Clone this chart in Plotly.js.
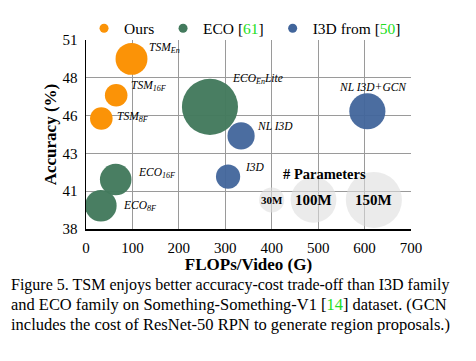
<!DOCTYPE html>
<html>
<head>
<meta charset="utf-8">
<script src="https://cdn.plot.ly/plotly-3.0.1.min.js"></script>
<style>html,body{margin:0;padding:0;background:#fff;}#chart{width:476px;height:361px;}</style>
</head>
<body>
<div id="chart"></div>
<script>
// ---- data ----
const tsmLabels = ['TSM<sub>En</sub>', 'TSM<sub>16F</sub>', 'TSM<sub>8F</sub>'];
const tsmFlops  = [98, 65, 33];
const tsmAcc    = [49.7, 47.2, 45.6];
const tsmParams = [48.6, 24.3, 24.3];

const ecoLabels = ['ECO<sub>En</sub>Lite', 'ECO<sub>16F</sub>', 'ECO<sub>8F</sub>'];
const ecoFlops  = [267, 64, 32];
const ecoAcc    = [46.4, 41.4, 39.6];
const ecoParams = [150, 47.5, 47.5];

const i3dLabels = ['NL I3D+GCN', 'NL I3D', 'I3D'];
const i3dFlops  = [606, 334, 306];
const i3dAcc    = [46.1, 44.4, 41.6];
const i3dParams = [62.2, 35.3, 28.0];

const keyLabels = ['30M', '100M', '150M'];
const keyParams = [30, 100, 150];
const keyFlops  = [400, 490, 620];
const keyAcc    = [40, 40, 40];
const keyTitle  = '# Parameters';
const keyTitleFlops = 513;
const keyTitleAcc = 41.8;

const seriesNames = ['Ours&nbsp;', 'ECO [<span style="color:#22dd22">61</span>]&nbsp;', 'I3D from [<span style="color:#22dd22">50</span>]'];

const yTickVals = [38, 40.6, 43.2, 45.8, 48.4, 51];
const yTickText = ['38', '41', '43', '46', '48', '51'];
const xTickVals = [0, 100, 200, 300, 400, 500, 600, 700];

const captionLines = [
  'Figure 5. TSM enjoys better accuracy-cost trade-off than I3D family',
  'and ECO family on Something-Something-V1 [<span style="color:#22dd22">14</span>] dataset. (GCN',
  'includes the cost of ResNet-50 RPN to generate region proposals.)'
];

// ---- styles ----
const SERIF = '"Liberation Serif", "Times New Roman", serif';
const colors = ['#FB9307', '#437A5D', '#41659B'];
const SIZEREF = 0.0954;
// label offsets (px) relative to bubble centre: [xshift, yshift, xanchor]
const tsmOff = [[15, 11, 'left'], [13, 9, 'left'], [14, 2, 'left']];
const ecoOff = [[20, 28, 'left'], [20, 7, 'left'], [20, 0, 'left']];
const i3dOff = [[6, 24, 'center'], [14, 10, 'left'], [15, 10, 'left']];
const capY = [-0.295, -0.401, -0.507];
const capSize = [16.0, 16.45, 16.5];

function bubble(x, y, s, color, opacity) {
  return {
    type: 'scatter', mode: 'markers', x: x, y: y, showlegend: false, hoverinfo: 'skip',
    marker: {size: s, sizemode: 'area', sizeref: SIZEREF, color: color, opacity: opacity, line: {width: 0}}
  };
}
function legendItem(name, color) {
  return {
    type: 'scatter', mode: 'markers', x: [null], y: [null], name: name, showlegend: true,
    marker: {size: 9, color: color}
  };
}

const traces = [
  bubble(keyFlops, keyAcc, keyParams, 'rgba(222,222,222,0.6)', 1),
  bubble(ecoFlops, ecoAcc, ecoParams, colors[1], 0.97),
  bubble(i3dFlops, i3dAcc, i3dParams, colors[2], 0.95),
  bubble(tsmFlops, tsmAcc, tsmParams, colors[0], 1),
  legendItem(seriesNames[0], colors[0]),
  legendItem(seriesNames[1], colors[1]),
  legendItem(seriesNames[2], colors[2])
];

const annotations = [];
function addLabels(labels, xs, ys, offs) {
  labels.forEach(function (t, i) {
    annotations.push({
      x: xs[i], y: ys[i], xref: 'x', yref: 'y', text: t, showarrow: false,
      xanchor: offs[i][2], yanchor: 'middle', xshift: offs[i][0], yshift: offs[i][1],
      font: {family: SERIF, size: 11.5, color: '#000', style: 'italic'}
    });
  });
}
addLabels(tsmLabels, tsmFlops, tsmAcc, tsmOff);
addLabels(ecoLabels, ecoFlops, ecoAcc, ecoOff);
addLabels(i3dLabels, i3dFlops, i3dAcc, i3dOff);

keyLabels.forEach(function (t, i) {
  annotations.push({
    x: keyFlops[i], y: keyAcc[i], xref: 'x', yref: 'y', text: '<b>' + t + '</b>', showarrow: false,
    xanchor: 'center', yanchor: 'middle',
    font: {family: SERIF, size: i === 0 ? 11 : 15, color: '#000'}
  });
});
annotations.push({
  x: keyTitleFlops, y: keyTitleAcc, xref: 'x', yref: 'y', text: '<b>' + keyTitle + '</b>', showarrow: false,
  xanchor: 'center', yanchor: 'middle', font: {family: SERIF, size: 14.5, color: '#000'}
});

captionLines.forEach(function (t, i) {
  annotations.push({
    x: -0.237, y: capY[i], xref: 'paper', yref: 'paper', text: t, showarrow: false,
    xanchor: 'left', yanchor: 'middle', align: 'left',
    font: {family: SERIF, size: capSize[i], color: '#000'}
  });
});

const layout = {
  width: 476, height: 361,
  margin: {l: 86, r: 65, t: 22, b: 132, pad: 0},
  paper_bgcolor: '#fff', plot_bgcolor: '#fff',
  font: {family: SERIF, color: '#000'},
  showlegend: true,
  legend: {
    orientation: 'h', x: -0.006, xanchor: 'left', y: 1.06, yanchor: 'middle',
    font: {family: SERIF, size: 15.5, color: '#000'}, bgcolor: 'rgba(0,0,0,0)',
    itemclick: false, tracegroupgap: 0
  },
  xaxis: {
    range: [0, 700], tickvals: xTickVals, ticks: '', showgrid: true, gridcolor: '#9a9a9a', gridwidth: 1,
    zeroline: false, showline: true, linecolor: '#000', linewidth: 1.5,
    tickfont: {family: SERIF, size: 15, color: '#000'}, ticklabelstandoff: 4,
    title: {text: '<b>FLOPs/Video (G)</b>', font: {family: SERIF, size: 17, color: '#000'}, standoff: 3},
    fixedrange: true
  },
  yaxis: {
    range: [38, 51], tickvals: yTickVals, ticktext: yTickText, ticks: '', showgrid: true, gridcolor: '#9a9a9a', gridwidth: 1,
    zeroline: false, showline: true, linecolor: '#000', linewidth: 1.5,
    tickfont: {family: SERIF, size: 15, color: '#000'}, ticklabelstandoff: 4,
    title: {text: '<b>Accuracy (%)</b>', font: {family: SERIF, size: 17, color: '#000'}, standoff: 1},
    fixedrange: true
  },
  annotations: annotations,
  hovermode: false
};

Plotly.newPlot('chart', traces, layout, {displayModeBar: false, staticPlot: true});
</script>
</body>
</html>
